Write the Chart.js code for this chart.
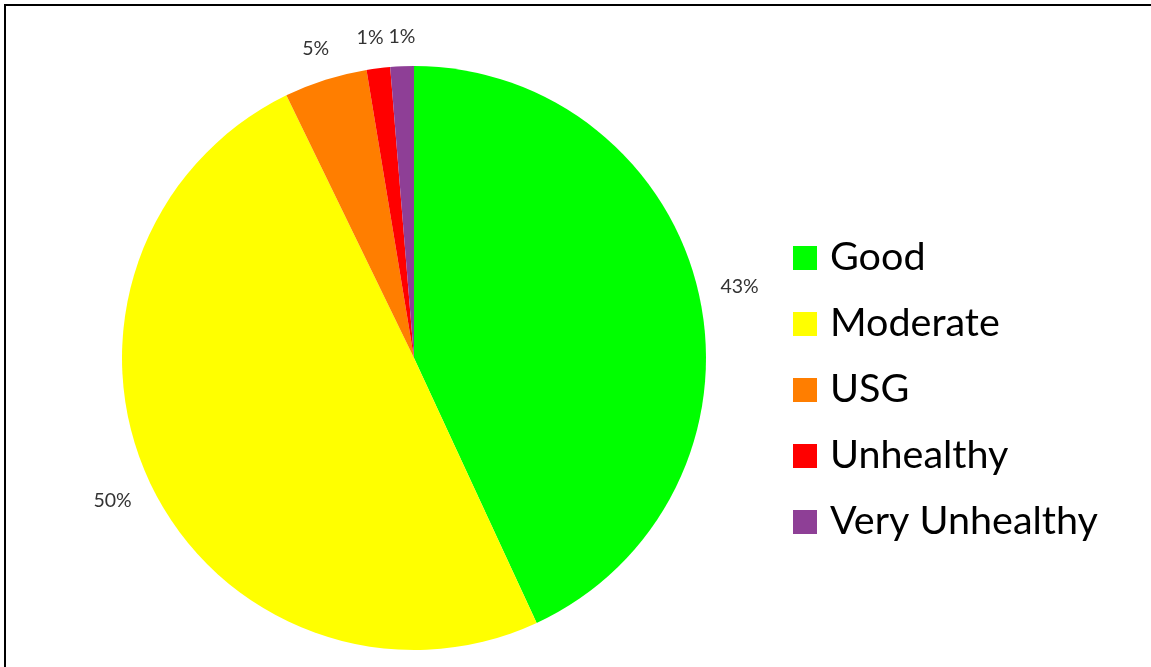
<!DOCTYPE html>
<html>
<head>
<meta charset="utf-8">
<script src="https://cdn.jsdelivr.net/npm/chart.js@4.4.0/dist/chart.umd.min.js"></script>
<style>
  html, body { margin: 0; padding: 0; background: #fff; }
  #wrap { position: relative; width: 1151px; height: 667px; overflow: hidden; }
  #frame { position: absolute; left: 4px; top: 4px; right: -10px; bottom: -10px;
           border-top: 2px solid #000; border-left: 2px solid #000; pointer-events: none; }
  canvas { position: absolute; left: 0; top: 0; }
</style>
</head>
<body>
<div id="wrap">
  <canvas id="c" width="1151" height="667"></canvas>
  <div id="frame"></div>
</div>
<script>
// ---- data ----
const categories = ["Good", "Moderate", "USG", "Unhealthy", "Very Unhealthy"];
const shares = [43.1, 49.7, 4.6, 1.3, 1.3];          // percent of days
const sliceColors = ["#00FF00", "#FFFF00", "#FF7E00", "#FF0000", "#8E3F96"];

const labelFont = "19.5px Lato";
const labelColor = "#333333";
const legendFont = "39.5px Lato";

const pctLabels = {
  id: "pctLabels",
  afterDatasetsDraw(chart) {
    const ctx = chart.ctx;
    const meta = chart.getDatasetMeta(0);
    const data = chart.data.datasets[0].data;
    const total = data.reduce((a, b) => a + b, 0);
    ctx.save();
    ctx.font = labelFont;
    ctx.fillStyle = labelColor;
    ctx.textAlign = "center";
    ctx.textBaseline = "middle";
    const h = 16;
    const items = meta.data.map((arc, i) => {
      const p = arc.getProps(["x", "y", "startAngle", "endAngle", "outerRadius"], true);
      const mid = (p.startAngle + p.endAngle) / 2;
      const txt = Math.round(data[i] / total * 100) + "%";
      const w = ctx.measureText(txt).width;
      const c = Math.cos(mid), s = Math.sin(mid);
      const ext = Math.abs(c) * w / 2 + Math.abs(s) * h / 2;
      const d = p.outerRadius + 21 + ext;
      return { txt, w, x: p.x + c * d, y: p.y + s * d };
    });
    // push overlapping neighbours apart horizontally
    for (let i = 1; i < items.length; i++) {
      const a = items[i - 1], b = items[i];
      const need = (a.w + b.w) / 2 + 5;
      if (Math.abs(a.y - b.y) < h && Math.abs(b.x - a.x) < need) {
        const shift = need - Math.abs(b.x - a.x);
        if (a.x <= b.x) { a.x -= shift * 0.8; b.x += shift * 0.2; }
        else { a.x += shift * 0.8; b.x -= shift * 0.2; }
      }
    }
    items.forEach(it => ctx.fillText(it.txt, it.x, it.y));
    ctx.restore();
  }
};

const legendCfg = { x: 793, top: 246, box: 24, step: 66, gap: 13 };
const customLegend = {
  id: "customLegend",
  afterDraw(chart) {
    const ctx = chart.ctx;
    const ds = chart.data.datasets[0];
    ctx.save();
    ctx.font = legendFont;
    ctx.textAlign = "left";
    ctx.textBaseline = "alphabetic";
    chart.data.labels.forEach((lab, i) => {
      const y = legendCfg.top + i * legendCfg.step;
      ctx.fillStyle = ds.backgroundColor[i];
      ctx.fillRect(legendCfg.x, y, legendCfg.box, legendCfg.box);
      ctx.fillStyle = "#000";
      ctx.fillText(lab, legendCfg.x + legendCfg.box + legendCfg.gap, y + legendCfg.box - 0.5);
    });
    ctx.restore();
  }
};

new Chart(document.getElementById("c"), {
  type: "pie",
  data: {
    labels: categories,
    datasets: [{ data: shares, backgroundColor: sliceColors, borderWidth: 0 }]
  },
  options: {
    responsive: false,
    animation: false,
    layout: { padding: { left: 122, right: 445, top: 66, bottom: 17 } },
    plugins: { legend: { display: false }, tooltip: { enabled: false } }
  },
  plugins: [pctLabels, customLegend]
});
</script>
</body>
</html>
